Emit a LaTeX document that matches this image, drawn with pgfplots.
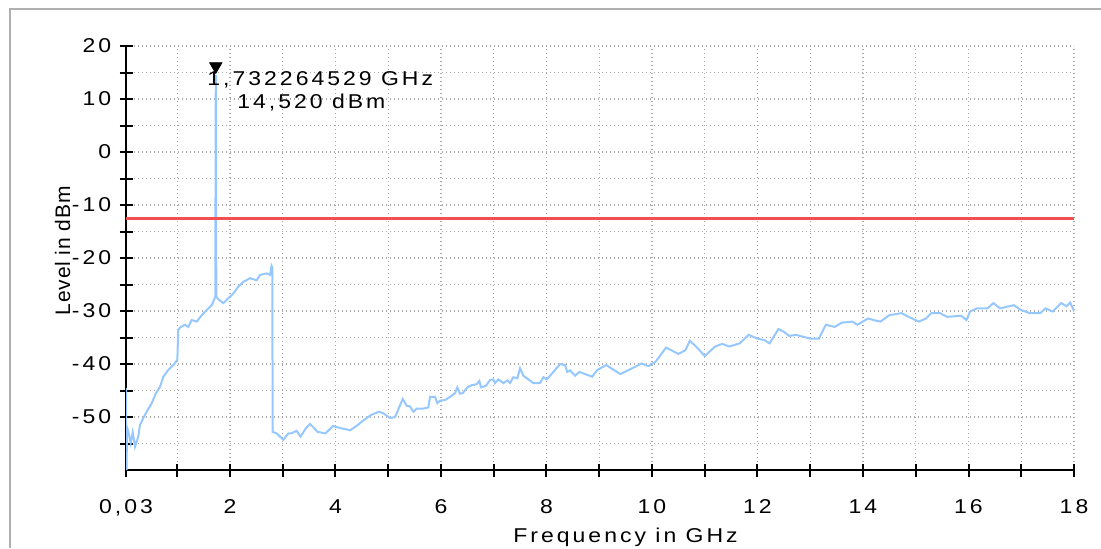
\documentclass[border=0pt]{standalone}
\usepackage{fontspec}
\setmainfont{Liberation Sans}[LetterSpace=15, FakeStretch=1.15]
\newfontfamily\ylfont{Liberation Sans}[LetterSpace=4]
\usepackage{pgfplots}
\pgfplotsset{compat=1.18}
\definecolor{trace}{RGB}{150,200,255}
\definecolor{limitred}{RGB}{242,80,80}
\definecolor{gridgray}{RGB}{170,170,170}
\definecolor{framegray}{RGB}{175,175,175}
\begin{document}
\begin{tikzpicture}
\path[use as bounding box] (0,0) rectangle (550.5pt,274pt);
\draw[framegray, line width=1pt] (5pt,0) -- (5pt,269.5pt) -- (550.5pt,269.5pt);
\begin{axis}[
  at={(63pt,39pt)}, anchor=south west,
  scale only axis, width=474pt, height=212pt,
  xmin=0.03, xmax=18, ymin=-60, ymax=20,
  axis x line=bottom, axis y line=left,
  axis line style={-, line width=1pt, black},
  xtick={0.03,2,4,6,8,10,12,14,16,18},
  xticklabels={{0,03},2,4,6,8,10,12,14,16,18},
  minor xtick={1,3,...,17},
  ytick={-50,-40,...,20},
  yticklabels={-50,-40,-30,-20,-10,0,10,20},
  minor ytick={-55,-45,...,15},
  grid=both,
  major grid style={gridgray, line width=0.6pt, dash pattern=on 0.6pt off 1.4pt},
  minor grid style={gridgray, line width=0.6pt, dash pattern=on 0.6pt off 1.4pt},
  tick align=center, major tick length=6.5pt, minor tick length=6.5pt,
  tick style={black, line width=1pt},
  ticklabel style={font=\fontsize{10}{11}\selectfont},
  xticklabel style={anchor=base, inner sep=0pt, yshift=-18.5pt},
  yticklabel style={anchor=east, inner sep=0pt, xshift=-4pt},
  every axis x label/.style={at={(rel axis cs:0.527,-0.17)}, anchor=base, font=\fontsize{10}{11}\selectfont},
  every axis y label/.style={at={(rel axis cs:-0.059,0.517)}, rotate=90, anchor=base, font=\ylfont\fontsize{10.5}{11}\selectfont},
  xlabel={Frequency in GHz},
  ylabel={Level in dBm},
  clip=true,
]
\addplot[trace, line width=1pt] coordinates {
(0.03,-44.5) (0.04,-60) (0.05,-52) (0.074,-52.8) (0.119,-54.9) (0.157,-52.9)
(0.201,-55.6) (0.263,-53.7) (0.295,-51.5) (0.358,-50.2) (0.422,-49.0) (0.517,-47.4)
(0.599,-45.5) (0.675,-44.3) (0.737,-42.4) (0.832,-41.1) (0.927,-40.2) (1.003,-39.2)
(1.021,-33.6) (1.054,-33.1) (1.148,-32.6) (1.211,-33.0) (1.275,-31.7) (1.370,-32.0)
(1.465,-30.8) (1.560,-29.8) (1.655,-28.9) (1.698,-27.9) (1.722,-27.3) (1.732,14.52)
(1.742,-27.3) (1.780,-27.8) (1.875,-28.5) (1.969,-27.6) (2.064,-26.7) (2.159,-25.4)
(2.254,-24.5) (2.381,-23.8) (2.508,-24.2) (2.570,-23.2) (2.697,-22.9) (2.760,-23.2)
(2.790,-21.5) (2.803,-21.8) (2.810,-52.8) (2.887,-53.1) (3.012,-54.3) (3.107,-53.1)
(3.158,-53.1) (3.264,-52.6) (3.336,-53.7) (3.442,-52.1) (3.518,-51.3) (3.662,-52.8)
(3.808,-53.1) (3.954,-51.7) (4.098,-52.1) (4.280,-52.5) (4.424,-51.5) (4.534,-50.6)
(4.678,-49.6) (4.824,-49.0) (4.908,-49.3) (5.035,-50.2) (5.130,-50.0) (5.276,-46.6)
(5.351,-47.9) (5.414,-48.0) (5.477,-49.0) (5.541,-48.4) (5.666,-48.4) (5.761,-48.2)
(5.793,-46.2) (5.888,-46.2) (5.931,-47.4) (5.983,-46.9) (6.077,-46.8) (6.172,-46.2)
(6.267,-45.5) (6.311,-44.4) (6.362,-45.6) (6.413,-45.5) (6.500,-44.4) (6.584,-44.0)
(6.678,-43.8) (6.728,-43.2) (6.760,-44.4) (6.855,-44.1) (6.931,-43.0) (6.993,-42.9)
(7.025,-43.6) (7.088,-42.9) (7.183,-43.6) (7.258,-43.1) (7.310,-43.6) (7.372,-42.5)
(7.448,-42.7) (7.499,-40.8) (7.562,-42.2) (7.657,-42.9) (7.751,-43.6) (7.878,-43.6)
(7.941,-42.5) (8.006,-42.9) (8.131,-41.5) (8.257,-40.0) (8.352,-40.2) (8.396,-41.5)
(8.447,-41.2) (8.542,-42.2) (8.623,-41.5) (8.868,-42.4) (8.966,-41.1) (9.133,-40.2)
(9.400,-41.9) (9.666,-40.6) (9.801,-39.9) (9.933,-40.4) (10.066,-39.6) (10.267,-36.9)
(10.366,-37.4) (10.500,-38.1) (10.633,-37.4) (10.718,-35.6) (10.866,-37.0) (10.999,-38.5)
(11.198,-36.7) (11.332,-36.2) (11.465,-36.7) (11.664,-36.1) (11.831,-34.5) (11.998,-35.2)
(12.131,-35.5) (12.231,-36.1) (12.398,-33.4) (12.498,-33.9) (12.597,-34.7) (12.732,-34.5)
(12.997,-35.2) (13.164,-35.2) (13.296,-32.6) (13.463,-33.0) (13.596,-32.2) (13.797,-32.0)
(13.895,-32.6) (14.096,-31.4) (14.197,-31.7) (14.330,-32.0) (14.496,-30.8) (14.730,-30.4)
(14.862,-31.1) (15.061,-32.0) (15.196,-31.4) (15.295,-30.4) (15.461,-30.4) (15.594,-31.1)
(15.861,-30.9) (15.962,-31.7) (16.028,-30.1) (16.161,-29.5) (16.362,-29.5) (16.473,-28.5)
(16.595,-29.5) (16.860,-28.9) (16.993,-29.8) (17.160,-30.4) (17.361,-30.4) (17.460,-29.5)
(17.594,-30.1) (17.759,-28.5) (17.859,-29.1) (17.926,-28.4) (17.992,-29.8) (18.0,-29.5)
};
\addplot[limitred, line width=1.6pt] coordinates {(0.03,-12.5) (18,-12.5)};
\addplot[only marks, mark=triangle*, mark size=3.55pt, mark options={black, fill=black, yshift=4.4pt, rotate=180}] coordinates {(1.732,14.52)};
\node[anchor=base west, inner sep=0pt, font=\fontsize{10}{11}\selectfont] at (axis cs:1.566,12.64) {1,732264529 GHz};
\node[anchor=base west, inner sep=0pt, font=\fontsize{10}{11}\selectfont] at (axis cs:2.134,8.25) {14,520 dBm};
\end{axis}
\end{tikzpicture}
\end{document}
